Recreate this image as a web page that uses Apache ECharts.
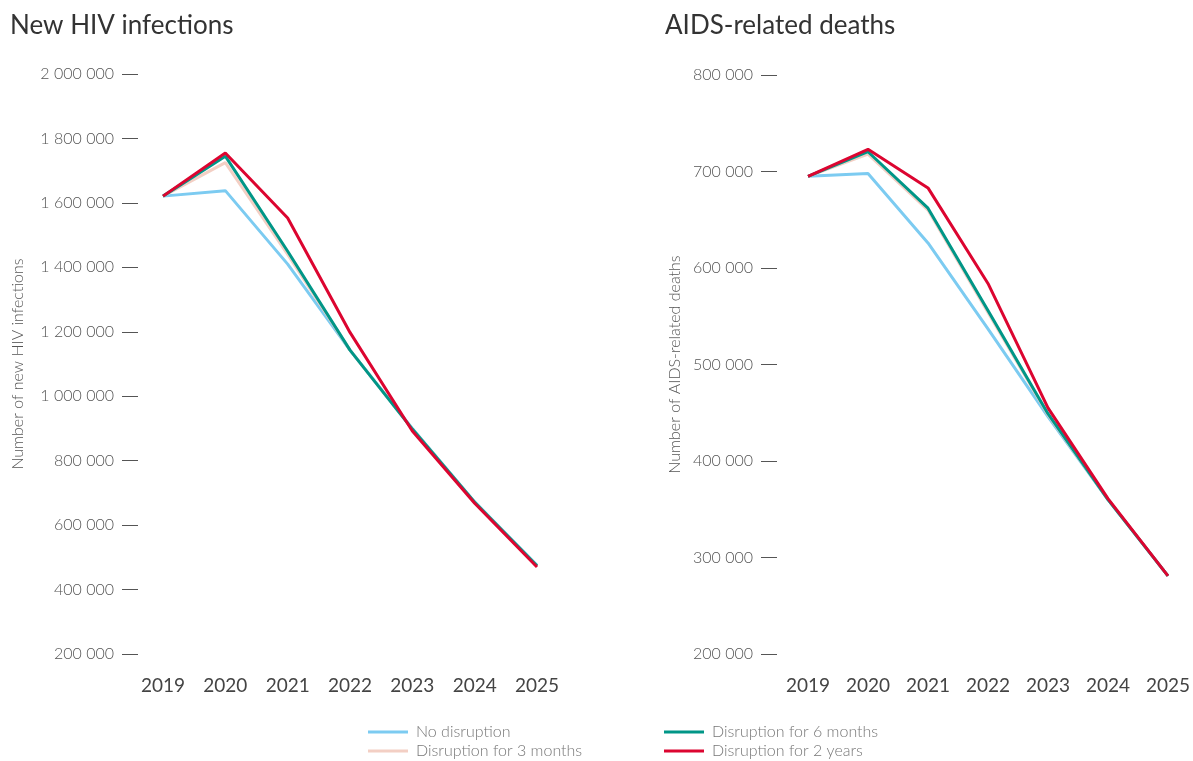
<!DOCTYPE html>
<html><head><meta charset="utf-8">
<script src="https://cdn.jsdelivr.net/npm/echarts@6/dist/echarts.min.js"></script>
<style>html,body{margin:0;padding:0;background:#fff}#c{width:1193px;height:761px}</style>
</head><body><div id="c"></div>
<script>
const years = ['2019','2020','2021','2022','2023','2024','2025'];
const seriesNames = ['No disruption','Disruption for 3 months','Disruption for 6 months','Disruption for 2 years'];
const colors = ['#7ccbf1','#f3cfc4','#009687','#dc0530'];
const infNone = [1621000, 1638000, 1410000, 1143000, 900000, 672000, 475000];
const inf3m   = [1621000, 1725000, 1440000, 1143000, 898000, 671000, 474000];
const inf6m   = [1621000, 1745000, 1450000, 1143000, 898000, 671000, 474000];
const inf2y   = [1621000, 1755000, 1553000, 1198000, 892000, 668000, 470000];
const dthNone = [695000, 698000, 626000, 537000, 446000, 360000, 281000];
const dth3m   = [695000, 718000, 660000, 554000, 448000, 360000, 281000];
const dth6m   = [695000, 720500, 662000, 556000, 449000, 360000, 281000];
const dth2y   = [695000, 723000, 683000, 584000, 455000, 361000, 281000];

const font = 'Lato, "Noto Sans", sans-serif';
const fmt = v => String(v).replace(/\B(?=(\d{3})+(?!\d))/g, ' ');
function xAx(i){return {type:'category',gridIndex:i,data:years,boundaryGap:false,
  axisLine:{show:false},axisTick:{show:false},
  axisLabel:{color:'#444',fontSize:19,fontFamily:font,margin:22}};}
function yAx(i,min,max,step,off,name,gap){return {type:'value',gridIndex:i,min:min,max:max,interval:step,offset:off,
  name:name,nameLocation:'middle',nameGap:gap,nameRotate:90,
  nameTextStyle:{color:'#555',fontSize:16,fontWeight:300,fontFamily:font},
  axisLine:{show:false},axisTick:{show:true,length:16,lineStyle:{color:'#555',width:1}},
  splitLine:{show:false},
  axisLabel:{color:'#555',fontSize:16,fontWeight:300,fontFamily:font,margin:24,formatter:fmt}};}
const left=[infNone,inf3m,inf6m,inf2y], right=[dthNone,dth3m,dth6m,dth2y];
const series=[];
[left,right].forEach((set,gi)=>set.forEach((d,k)=>series.push({
  type:'line',name:seriesNames[k],xAxisIndex:gi,yAxisIndex:gi,data:d,
  symbol:'none',lineStyle:{color:colors[k],width:3},itemStyle:{color:colors[k]},z:2+k,animation:false})));
function leg(name,x,y){return {left:x,top:y,itemGap:0,itemWidth:40,itemHeight:3,icon:'rect',padding:0,
  data:[name],textStyle:{color:'#777',fontSize:16,fontWeight:300,fontFamily:font,padding:[0,0,0,3]}};}
const chart=echarts.init(document.getElementById('c'));
chart.setOption({
  animation:false,
  title:[{text:'New HIV infections',left:5,top:8,textStyle:{color:'#333',fontSize:26,fontWeight:'normal',fontFamily:font}},
         {text:'AIDS-related deaths',left:660,top:8,textStyle:{color:'#333',fontSize:26,fontWeight:'normal',fontFamily:font}}],
  grid:[{left:163,width:374,top:74,height:580},{left:808,width:364,top:75,height:579}],
  xAxis:[xAx(0),xAx(1)],
  yAxis:[yAx(0,200000,2000000,200000,25,'Number of new HIV infections',112),
         yAx(1,200000,800000,100000,31,'Number of AIDS-related deaths',94)],
  legend:[leg(seriesNames[0],368,724),leg(seriesNames[1],368,743),leg(seriesNames[2],664,724),leg(seriesNames[3],664,743)],
  series:series
});
</script></body></html>
